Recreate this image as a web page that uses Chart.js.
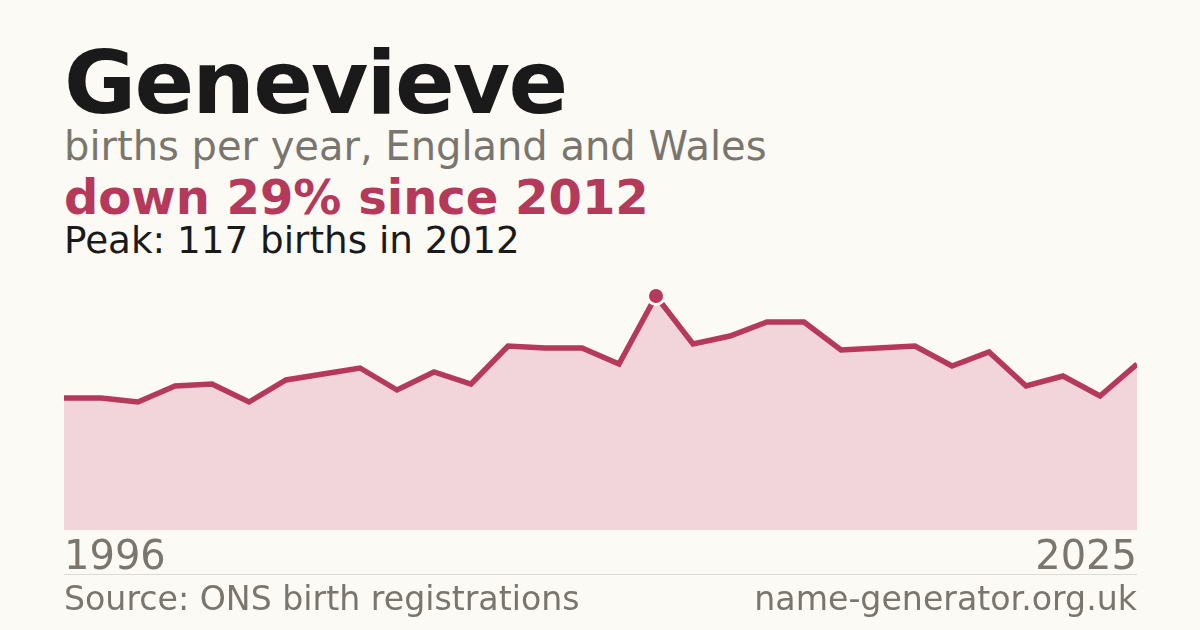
<!DOCTYPE html>
<html>
<head>
<meta charset="utf-8">
<title>Genevieve - births per year</title>
<script src="https://cdn.jsdelivr.net/npm/chart.js@4/dist/chart.umd.min.js"></script>
<style>
  html, body {
    margin: 0;
    padding: 0;
    width: 1200px;
    height: 630px;
    overflow: hidden;
    background: #fbfaf5;
    font-family: "DejaVu Sans", sans-serif;
  }
  .txt {
    position: absolute;
    left: 64px;
    white-space: nowrap;
  }
  #title { top: 39px; font-size: 88px; line-height: 88px; font-weight: bold; color: #1a1a1a; letter-spacing: -1.8px; }
  #subtitle { top: 126px; font-size: 40px; line-height: 40px; color: #7a756d; }
  #change { top: 173px; font-size: 48px; line-height: 48px; font-weight: bold; color: #b5395a; }
  #peak { top: 222px; font-size: 37.3px; line-height: 37px; color: #1a1a1a; }
  #rule { position: absolute; left: 64px; top: 574px; width: 1073px; height: 1px; background: #dedad2; }
  .foot { top: 582px; font-size: 33.2px; line-height: 33px; color: #7a756d; }
  #site { left: auto; right: 63px; }
  #chartBox { position: absolute; left: 64px; top: 260px; width: 1073px; height: 320px; }
</style>
</head>
<body>
<div id="title" class="txt">Genevieve</div>
<div id="subtitle" class="txt">births per year, England and Wales</div>
<div id="change" class="txt"></div>
<div id="peak" class="txt"></div>
<div id="chartBox"><canvas id="birthsChart" width="1073" height="320"></canvas></div>
<div id="rule"></div>
<div id="source" class="txt foot">Source: ONS birth registrations</div>
<div id="site" class="txt foot">name-generator.org.uk</div>

<script>
// Years on the x axis
const years = [
  1996, 1997, 1998, 1999, 2000, 2001, 2002, 2003, 2004, 2005,
  2006, 2007, 2008, 2009, 2010, 2011, 2012, 2013, 2014, 2015,
  2016, 2017, 2018, 2019, 2020, 2021, 2022, 2023, 2024, 2025
];

// Births per year
const births = [
  66, 66, 64, 72, 73, 64, 75, 78, 81, 70,
  79, 73, 92, 91, 91, 83, 117, 93, 97, 104,
  104, 90, 91, 92, 82, 89, 72, 77, 67, 83
];

// Only the first and last year get a tick label
const tickYears = [1996, 2025];

const lineColor = '#b5395a';
const fillColor = '#f2d5da';
const bgColor = '#fbfaf5';
const greyText = '#7a756d';

// Headline texts worked out from the data
const peakIndex = births.indexOf(Math.max(...births));
const peakYear = years[peakIndex];
const lastValue = births[births.length - 1];
const drop = Math.round((1 - lastValue / births[peakIndex]) * 100);
document.getElementById('change').textContent = `down ${drop}% since ${peakYear}`;
document.getElementById('peak').textContent = `Peak: ${births[peakIndex]} births in ${peakYear}`;

const ctx = document.getElementById('birthsChart').getContext('2d');
new Chart(ctx, {
  type: 'line',
  data: {
    labels: years,
    datasets: [{
      data: births,
      borderColor: lineColor,
      borderWidth: 5.5,
      backgroundColor: fillColor,
      fill: 'origin',
      tension: 0,
      pointRadius: (c) => c.dataIndex === peakIndex ? 8.5 : 0,
      pointBackgroundColor: lineColor,
      pointBorderColor: bgColor,
      pointBorderWidth: 3,
      pointHoverRadius: 0
    }]
  },
  options: {
    responsive: false,
    devicePixelRatio: 1,
    animation: false,
    events: [],
    layout: { autoPadding: false, padding: { top: 10, left: 0, right: 0, bottom: 0 } },
    plugins: {
      legend: { display: false },
      tooltip: { enabled: false }
    },
    scales: {
      x: {
        grid: { display: false, drawTicks: false },
        border: { display: false },
        // fixed axis height, and no side padding so the area runs edge to edge
        afterFit: (scale) => {
          scale.height = 50;
          scale.paddingLeft = 0;
          scale.paddingRight = 0;
        },
        ticks: {
          autoSkip: false,
          maxRotation: 0,
          align: 'inner',
          padding: 5,
          color: greyText,
          font: { family: 'DejaVu Sans', size: 40 },
          callback: function (value, index) {
            const y = years[index];
            return tickYears.includes(y) ? String(y) : '';
          }
        }
      },
      y: {
        display: false,
        min: 0,
        max: 130
      }
    }
  }
});
</script>
</body>
</html>
